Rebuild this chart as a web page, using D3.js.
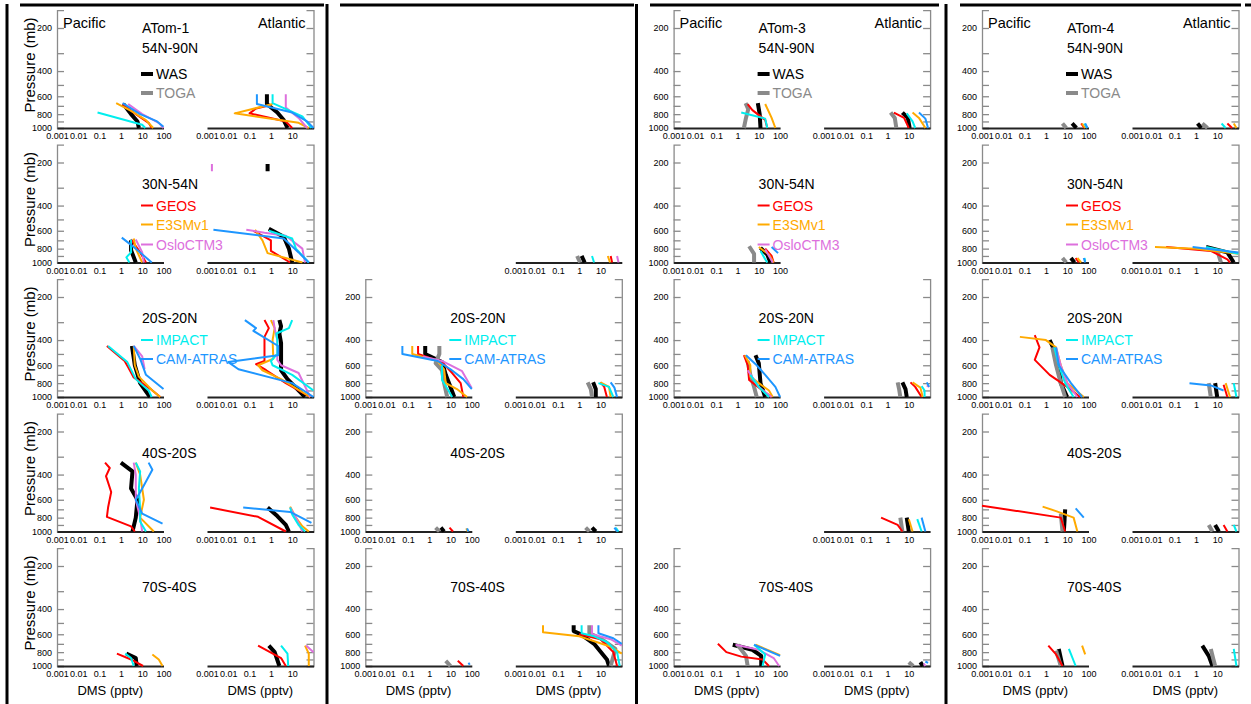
<!DOCTYPE html>
<html><head><meta charset="utf-8">
<script src="https://cdn.jsdelivr.net/npm/d3@7"></script>
<style>body{margin:0;background:#fff} svg{display:block} text{font-family:"Liberation Sans",Arial,Helvetica,sans-serif}</style>
</head><body><svg id="c" width="1251" height="704"></svg>
<script>
// ---------- categories / ticks ----------
const campaigns = ["ATom-1","ATom-2","ATom-3","ATom-4"];
const regions = ["54N-90N","30N-54N","20S-20N","40S-20S","70S-40S"];
const seriesKeys = ["WAS","TOGA","GEOS","E3SM","Oslo","IMPACT","CAM"];
const seriesNames = ["WAS","TOGA","GEOS","E3SMv1","OsloCTM3","IMPACT","CAM-ATRAS"];
const basins = ["Pacific","Atlantic"];
const pressureTicks = [200,300,400,500,600,700,800,900,1000];
const pressureLabels = [200,400,600,800,1000];
const dmsTicks = [0.001,0.01,0.1,1,10,100];
const dmsTickLabels = ["0.001","0.01","0.1","1","10","100"];
const pressureDomain = [150,1000];
const dmsDomain = [0.001,100];

// ---------- data: [DMS pptv, pressure mb]; null = gap ----------
// ATom-1
const a1_54N90N_pac = {WAS:[[1.3,680],[3,800],[6,900],[7,1000]], GEOS:[[1.2,680],[5,800],[20,920],[28,1000]], E3SM:[[0.6,670],[3,760],[15,880],[33,1000]], Oslo:[[2.2,680],[10,800],[60,920],[100,1000]], IMPACT:[[0.08,780],[10,950],[14,1000]], CAM:[[1.2,670],[8,800],[50,900],[100,980]]};
const a1_54N90N_atl = {WAS:[[0.65,580],[0.65,680],[2,780],[4,880],[6,1000]], GEOS:[[1,690],[0.2,730],[0.1,790],[5,900],[10,1000]], E3SM:[[1.2,680],[0.02,790],[20,920],[60,1000]], Oslo:[[5,580],[5,720],[20,850],[50,1000]], IMPACT:[[1.2,580],[1.2,670],[30,830],[80,1000]], CAM:[[0.22,580],[0.22,680],[10,780],[50,900],[100,1000]]};
const a1_30N54N_pac = {WAS:[[3,700],[3,820],[5,1000]], GEOS:[[3,690],[8,850],[15,1000]], E3SM:[[4,680],[5,800],[10,1000]], Oslo:[[5,690],[10,850],[12,1000]], IMPACT:[[3,690],[3,850],[1.8,920],[2.5,1000]], CAM:[[1.1,670],[5,800],[28,1000]]};
const a1_30N54N_atl = {WAS:[[0.7,205],[0.7,230],null,[0.8,580],[4,660],[7,800],[10,1000]], GEOS:[[0.15,600],[1,700],[1,830],[8,1000]], E3SM:[[0.18,590],[0.4,700],[0.7,860],[30,1000]], Oslo:[[0.0017,205],[0.0017,230],null,[0.07,590],[0.5,620],[5,650],[30,800],[40,1000]], IMPACT:[[0.8,600],[10,680],[15,800],[60,1000]], CAM:[[0.002,590],[4,680],[20,850],[60,1000]]};
const a1_20S20N_pac = {WAS:[[3.3,440],[4.5,600],[8,800],[23,1000]], GEOS:[[0.22,440],[1.5,560],[2.2,620],[4,730],[25,880],[70,1000]], E3SM:[[4,440],[4.5,600],[7,720],[30,900],[70,1000]], Oslo:[[4,440],[10,520],[13,640]], IMPACT:[[0.25,440],[2,570],[5,750],[20,900],[28,1000]], CAM:[[4,440],[8,540],[15,700],[100,880]]};
const a1_20S20N_atl = {WAS:[[2.5,290],[3,320],[2.5,360],[3,420],[3,550],[3,650],[6,750],[40,1000]], GEOS:[[0.5,290],[0.8,330],[0.5,380],[0.5,560],[0.2,590],[0.6,650],[5,800],[70,1000]], E3SM:[[1,290],[1.5,330],[1.2,400],[1.3,540],[0.25,600],[0.4,650],[3,750],[70,1000]], Oslo:[[1.3,290],[1.5,330],[2,400],[2,550],[3,600],[20,680],[70,1000]], IMPACT:[[10,290],[7,330],[1.8,360],[2,400],[2,500],[1,560],[1.2,600],[10,700],[100,900]], CAM:[[0.06,290],[0.2,330],[0.15,345],[2.2,440],[2.2,510],[0.01,570],[0.03,640],[10,800],[100,1000]]};
const a1_40S20S_pac = {WAS:[[1,330],[3.5,380],[3,500],[6,600],[5,800],[3.5,1000]], GEOS:[[0.18,330],[0.3,360],[0.2,410],[0.35,530],[0.25,680],[0.22,790],[3,920],[4.5,1000]], E3SM:[[5,330],[8,400],[12,600],[8,800],[35,1000]], Oslo:[[4,330],[5,400],[5,600],[8,800],[10,1000]], IMPACT:[[5,330],[8,380],[7,500],[8,700],[8,850],[15,1000]], CAM:[[20,330],[30,370],[10,500],[5,600],[10,750],[90,880]]};
const a1_40S20S_atl = {WAS:[[0.7,680],[2,780],[5,900],[7,1000]], GEOS:[[0.0014,680],[0.25,790],[5,1000]], E3SM:[[8,670],[15,800],[30,920],[60,1000]], Oslo:[[8,680],[15,800],[30,1000]], IMPACT:[[8,680],[10,760],[20,900],[40,1000]], CAM:[[0.05,680],[8,730],[80,870]]};
const a1_70S40S_pac = {WAS:[[1.8,820],[5,880],[5.5,1000]], GEOS:[[0.65,820],[3,900],[11,1000]], E3SM:[[30,830],[60,900],[90,1000]], IMPACT:[[1.6,820],[3,880],[4,1000]]};
const a1_70S40S_atl = {WAS:[[0.8,720],[1.5,800],[2.5,1000]], GEOS:[[0.25,720],[3,880],[5,1000]], E3SM:[[40,720],[60,820],[60,1000]], Oslo:[[45,720],[100,800]], IMPACT:[[3,720],[6,820],[6.5,1000]]};
// ATom-2
const a2_30N54N_atl = {TOGA:[[0.8,900],[1.1,1000]], WAS:[[1.3,900],[1.8,1000]], IMPACT:[[4,900],[5,1000]], E3SM:[[22,900],[28,1000]], GEOS:[[30,900],[35,1000]], Oslo:[[60,900],[70,1000]]};
const a2_20S20N_pac = {WAS:[[0.65,440],[0.65,500],[4,570],[6,700],[10,850],[15,1000]], TOGA:[[3,440],[3,500],[2,580],[4,650],[5,800],[7,1000]], GEOS:[[0.3,440],[0.3,500],[4,570],[12,680],[30,800],[40,1000]], E3SM:[[0.16,440],[0.16,500],[2.5,560],[5,640],[6,800],[20,880],[60,1000]], Oslo:[[0.5,520],[4,560],[35,660],[100,870]], IMPACT:[[4,600],[4,760],[8,900],[12,1000]], CAM:[[0.055,440],[0.055,500],[2.5,560],[10,640],[40,750],[100,880]]};
const a2_20S20N_atl = {TOGA:[[2.5,790],[3.5,880],[4,1000]], WAS:[[4.5,790],[6,880],[6,1000]], GEOS:[[10,790],[15,850],[20,1000]], E3SM:[[10,790],[25,850],[30,1000]], IMPACT:[[8,800],[25,850],[40,1000]], CAM:[[30,790],[45,860],[60,1000]]};
const a2_40S20S_pac = {TOGA:[[2,940],[3,1000]], WAS:[[3.5,940],[5,1000]], GEOS:[[9,940],[13,1000]], E3SM:[[55,950],[65,1000]], CAM:[[60,950],[70,1000]]};
const a2_40S20S_atl = {TOGA:[[2,940],[3,1000]], WAS:[[4,940],[6,1000]], E3SM:[[55,950],[60,1000]], IMPACT:[[50,940],[70,1000]], CAM:[[45,940],[60,1000]]};
const a2_70S40S_pac = {TOGA:[[6,920],[10,1000]], GEOS:[[22,920],[40,1000]], CAM:[[70,950],[80,980]]};
const a2_70S40S_atl = {WAS:[[0.55,520],[0.55,570],[1.2,600],[5,700],[20,900],[25,1000]], TOGA:[[3,520],[3,590],[10,640],[50,760],[30,1000]], GEOS:[[1,600],[10,650],[40,800],[60,1000]], E3SM:[[0.02,520],[0.02,580],[1,620],[28,730],[100,820]], Oslo:[[4,520],[4,600],[30,650],[100,720]], IMPACT:[[1.3,520],[1.3,590],[5,620],[20,680],[60,800],[80,1000]], CAM:[[8,520],[8,590],[40,640],[100,700]]};
// ATom-3
const a3_54N90N_pac = {WAS:[[9,670],[11,800],[12,1000]], TOGA:[[2.4,670],[3.2,740],[2.5,850],[2,1000]], GEOS:[[3,680],[5,750],[20,880],[25,1000]], E3SM:[[20,680],[40,850],[60,1000]], IMPACT:[[1.5,780],[20,860],[25,1000]]};
const a3_54N90N_atl = {WAS:[[5,780],[9,850],[11,1000]], TOGA:[[1.4,780],[2.2,850],[2.6,1000]], GEOS:[[2,780],[6,850],[10,1000]], E3SM:[[15,780],[30,850],[60,1000]], IMPACT:[[8,790],[15,900],[20,1000]], CAM:[[30,780],[60,860],[80,1000]]};
const a3_30N54N_pac = {TOGA:[[3.5,770],[6,870],[6,1000]], WAS:[[12,790],[25,880],[35,1000]], E3SM:[[10,780],[30,880],[50,1000]], IMPACT:[[12,830],[20,950],[25,1000]], GEOS:[[20,800],[40,900],[50,1000]], Oslo:[[20,810],[45,1000]], CAM:[[40,780],[80,860]]};
const a3_20S20N_pac = {WAS:[[7,510],[10,580],[12,800],[20,1000]], TOGA:[[3,560],[4,700],[6,850],[8,1000]], GEOS:[[2,510],[3,600],[3.5,760],[15,900],[40,1000]], E3SM:[[2.2,510],[4,600],[4,720],[10,800],[30,900],[45,1000]], Oslo:[[3,650],[10,850],[40,1000]], IMPACT:[[4,700],[10,850],[30,1000]], CAM:[[2.5,510],[8,600],[20,700],[60,850],[100,1000]]};
const a3_20S20N_atl = {TOGA:[[3,790],[3.5,880],[4,1000]], WAS:[[5,790],[7,880],[8,1000]], GEOS:[[12,790],[20,850],[40,1000]], E3SM:[[15,790],[35,860],[45,1000]], IMPACT:[[40,840],[55,900],[55,1000]], Oslo:[[70,830],[90,850]], CAM:[[70,790],[90,850]]};
const a3_40S20S_atl = {GEOS:[[0.5,800],[3,900],[5,1000]], TOGA:[[4,800],[5,1000]], WAS:[[8,800],[10,1000]], E3SM:[[10,820],[15,1000]], IMPACT:[[25,820],[40,1000]], CAM:[[40,800],[60,1000]]};
const a3_70S40S_pac = {WAS:[[0.6,710],[5,770],[13,850],[13,1000]], TOGA:[[1,710],[2.5,850],[3,1000]], GEOS:[[0.12,700],[0.3,800],[1.5,860],[15,900],[30,1000]], E3SM:[[7,710],[100,840]], Oslo:[[0.8,710],[10,770],[50,880],[90,1000]], IMPACT:[[6,710],[20,830],[15,1000]], CAM:[[6,710],[100,850]]};
const a3_70S40S_atl = {TOGA:[[10,940],[16,1000]], WAS:[[35,940],[45,1000]], Oslo:[[50,960],[60,1000]], CAM:[[60,930],[80,950]]};
// ATom-4
const a4_54N90N_pac = {TOGA:[[6,930],[9,1000]], WAS:[[17,930],[27,1000]], GEOS:[[45,930],[65,1000]], E3SM:[[50,930],[70,1000]], IMPACT:[[65,930],[85,1000]], CAM:[[70,930],[90,1000]]};
const a4_54N90N_atl = {WAS:[[1.2,930],[1.8,1000]], TOGA:[[2,930],[3.5,1000]], IMPACT:[[16,930],[25,1000]], GEOS:[[30,930],[50,1000]], E3SM:[[60,930],[80,1000]]};
const a4_30N54N_pac = {TOGA:[[6,930],[9,1000]], WAS:[[15,930],[22,1000]], GEOS:[[25,930],[35,1000]], E3SM:[[30,930],[45,1000]], CAM:[[60,930],[70,1000]], IMPACT:[[65,930],[70,980]]};
const a4_30N54N_atl = {WAS:[[3,780],[30,850],[60,1000]], TOGA:[[10,820],[15,1000]], GEOS:[[0.04,780],[5,830],[30,950],[40,1000]], E3SM:[[0.012,780],[1,800],[100,870]], IMPACT:[[3,780],[100,870]], CAM:[[0.7,780],[100,850]]};
const a4_20S20N_pac = {WAS:[[1.5,400],[3,500],[4,600],[5,800],[10,1000]], TOGA:[[2,450],[3,600],[5,800],[8,1000]], GEOS:[[0.3,370],[0.5,450],[0.3,550],[1.5,700],[10,850],[40,1000]], E3SM:[[0.06,380],[1,400],[3,450],[5,600],[10,800],[60,1000]], Oslo:[[3,450],[5,600],[10,800],[30,1000]], IMPACT:[[2.5,450],[4,600],[8,800],[20,1000]], CAM:[[3,450],[4,600],[15,800],[50,1000]]};
const a4_20S20N_atl = {CAM:[[0.5,800],[5,830],[20,900]], TOGA:[[4,800],[5,1000]], WAS:[[8,800],[10,1000]], GEOS:[[20,820],[30,1000]], E3SM:[[25,800],[40,1000]], IMPACT:[[60,800],[80,1000]]};
const a4_40S20S_pac = {GEOS:[[0.001,660],[5,800],[8,1000]], E3SM:[[0.7,670],[3,720],[20,800],[30,1000]], WAS:[[8,700],[7,1000]], TOGA:[[5,750],[6,1000]], CAM:[[25,690],[60,800]]};
const a4_40S20S_atl = {TOGA:[[4,900],[6,1000]], WAS:[[8,900],[12,1000]], GEOS:[[20,900],[30,1000]], IMPACT:[[60,900],[80,1000]]};
const a4_70S40S_pac = {GEOS:[[1.3,720],[3,830],[6,1000]], WAS:[[4,760],[6,1000]], TOGA:[[3,780],[5,1000]], IMPACT:[[12,760],[25,1000]], E3SM:[[50,720],[70,830]]};
const a4_70S40S_atl = {WAS:[[2,720],[4,850],[6,1000]], TOGA:[[5,760],[8,1000]], IMPACT:[[60,760],[80,1000]]};

// panel table (campaign x region) -> [pacific, atlantic]
const panelData = [
  [[a1_54N90N_pac,a1_54N90N_atl],[a1_30N54N_pac,a1_30N54N_atl],[a1_20S20N_pac,a1_20S20N_atl],[a1_40S20S_pac,a1_40S20S_atl],[a1_70S40S_pac,a1_70S40S_atl]],
  [[null,null],[null,a2_30N54N_atl],[a2_20S20N_pac,a2_20S20N_atl],[a2_40S20S_pac,a2_40S20S_atl],[a2_70S40S_pac,a2_70S40S_atl]],
  [[a3_54N90N_pac,a3_54N90N_atl],[a3_30N54N_pac,null],[a3_20S20N_pac,a3_20S20N_atl],[null,a3_40S20S_atl],[a3_70S40S_pac,a3_70S40S_atl]],
  [[a4_54N90N_pac,a4_54N90N_atl],[a4_30N54N_pac,a4_30N54N_atl],[a4_20S20N_pac,a4_20S20N_atl],[a4_40S20S_pac,a4_40S20S_atl],[a4_70S40S_pac,a4_70S40S_atl]]
];
const legendRows = [["WAS","TOGA"],["GEOS","E3SM","Oslo"],["IMPACT","CAM"]];

// ---------- styles ----------
const seriesColor = {WAS:"#000000",TOGA:"#8a8a8a",GEOS:"#ff0000",E3SM:"#ffaa00",Oslo:"#dd70dd",IMPACT:"#00eeee",CAM:"#1e96ff"};
const seriesWidth = {WAS:4,TOGA:4,GEOS:2,E3SM:2,Oslo:2,IMPACT:2,CAM:2};

// ---------- layout ----------
const svg = d3.select("#c");
const colX0 = [57, 365.3, 673.6, 982];
const atlOffset = 150, axW = 106.5;
const rowY200 = r => 28 + 134.5*r;
const defs = svg.append("defs");

// frame
const sepX = [7, 327, 636.5, 946];
sepX.forEach(x => svg.append("line").attr("x1",x).attr("x2",x).attr("y1",4).attr("y2",704).attr("stroke","#000").attr("stroke-width",3));
[[20,324],[340,634],[650,939],[960,1241],[1245,1251]].forEach(s => svg.append("line").attr("x1",s[0]).attr("x2",s[1]).attr("y1",5).attr("y2",5).attr("stroke","#000").attr("stroke-width",3));

const FS_TICK = 9;
campaigns.forEach((camp, c) => {
  regions.forEach((reg, r) => {
    const [pac, atl] = panelData[c][r];
    if (!pac && !atl) return;
    const y200 = rowY200(r);
    const yTopPix = y200 - 100*Math.log10(200/150)/Math.log10(1000/200);
    const y = d3.scaleLog().domain(pressureDomain).range([yTopPix, y200+100]);
    const xP = d3.scaleLog().domain(dmsDomain).range([colX0[c], colX0[c]+axW]);
    const xA = d3.scaleLog().domain(dmsDomain).range([colX0[c]+atlOffset, colX0[c]+atlOffset+axW]);
    const g = svg.append("g");
    const full = pac && atl;
    // y axes
    const yAxisL = d3.axisLeft(y).tickValues(pressureTicks).tickSizeInner(-7).tickSizeOuter(-7).tickPadding(5)
        .tickFormat(d => pressureLabels.includes(d) ? d : "");
    const yAxisR = d3.axisRight(y).tickValues(pressureTicks).tickSizeInner(-7).tickSizeOuter(-7).tickFormat("");
    if (pac) {
      const ga = g.append("g").attr("transform",`translate(${colX0[c]},0)`).call(yAxisL);
      ga.selectAll("path,line").attr("stroke","#8a8a8a").attr("stroke-width",1.3);
      ga.selectAll("text").attr("font-size",9).attr("font-family","Liberation Sans, Arial").attr("fill","#000");
    }
    if (full) {
      const ga = g.append("g").attr("transform",`translate(${colX0[c]+atlOffset+axW},0)`).call(yAxisR);
      ga.selectAll("path,line").attr("stroke","#8a8a8a").attr("stroke-width",1.3);
    }
    // x axes
    [[pac,xP,0],[atl,xA,1]].forEach(([dat, xs, b]) => {
      if (!dat) return;
      const xa = d3.axisBottom(xs).tickValues(dmsTicks).tickSize(0).tickPadding(5)
          .tickFormat((d,i) => (b===1 && i===5) ? "" : dmsTickLabels[i]);
      const gx = g.append("g").attr("transform",`translate(0,${y200+100})`).call(xa);
      gx.select(".domain").attr("stroke","#222").attr("stroke-width",2);
      gx.selectAll("text").attr("font-size",FS_TICK).attr("font-family","Liberation Sans, Arial").attr("fill","#000");
      // lines
      const id = `clip${c}_${r}_${b}`;
      defs.append("clipPath").attr("id",id).append("rect")
        .attr("x",xs.range()[0]-1).attr("y",yTopPix).attr("width",axW+2).attr("height",y200+100-yTopPix+1);
      const line = d3.line().defined(d => d!==null).x(d => xs(d[0])).y(d => y(d[1]));
      const gl = g.append("g").attr("clip-path",`url(#${id})`);
      seriesKeys.forEach(k => {
        if (!dat[k]) return;
        gl.append("path").attr("d",line(dat[k])).attr("fill","none")
          .attr("stroke",seriesColor[k]).attr("stroke-width",seriesWidth[k])
          .attr("stroke-linejoin","round");
      });
      if (r === 4) {
        g.append("text").attr("x",xs.range()[0]+axW/2).attr("y",695).attr("text-anchor","middle")
          .attr("font-size",13).text("DMS (pptv)");
      }
    });
    // labels
    const tx = colX0[c] + 85;
    if (pac) {
      if (r === 0) g.append("text").attr("x",tx).attr("y",y200+5).attr("font-size",14).text(camp);
      g.append("text").attr("x",tx).attr("y",y200+(r===0?25:26)).attr("font-size",14).text(reg);
      if (r < 3) {
        const base = r===0 ? [51,70] : [48,67,87];
        legendRows[r].forEach((k,i) => {
          const yy = y200 + base[i];
          g.append("line").attr("x1",tx-1).attr("x2",tx+11).attr("y1",yy-5).attr("y2",yy-5)
            .attr("stroke",seriesColor[k]).attr("stroke-width",seriesWidth[k]);
          g.append("text").attr("x",tx+14).attr("y",yy).attr("font-size",14).attr("fill",seriesColor[k])
            .text(seriesNames[seriesKeys.indexOf(k)]);
        });
      }
    }
    if (full && r === 0) {
      g.append("text").attr("x",colX0[c]+6).attr("y",y200).attr("font-size",14.5).text(basins[0]);
      g.append("text").attr("x",colX0[c]+atlOffset+axW-8).attr("y",y200).attr("text-anchor","end").attr("font-size",14.5).text(basins[1]);
    }
    if (c === 0) {
      g.append("text").attr("transform",`translate(35,${y200+37}) rotate(-90)`).attr("text-anchor","middle")
        .attr("font-size",15).text("Pressure (mb)");
    }
  });
});
</script></body></html>
